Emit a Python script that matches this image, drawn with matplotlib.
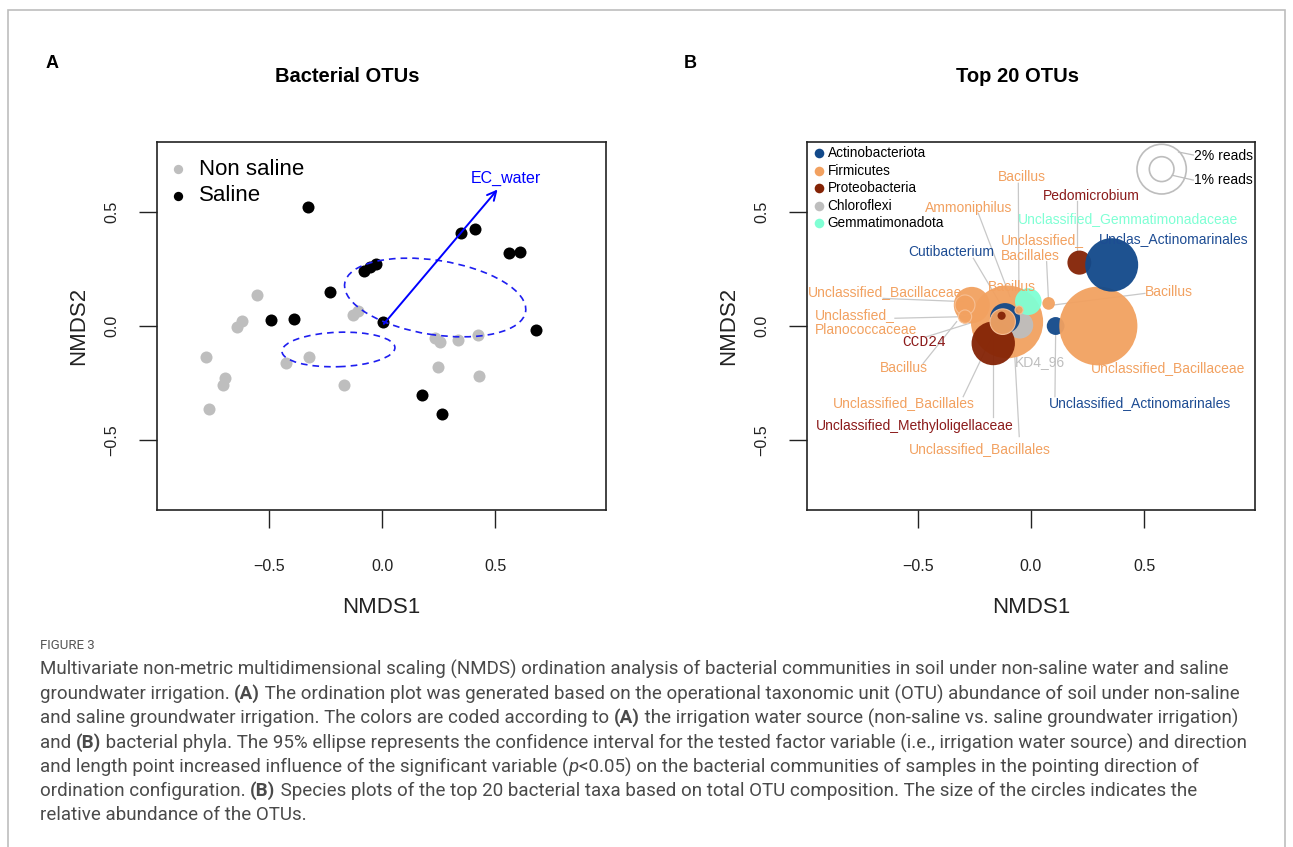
import numpy as np
import matplotlib.pyplot as plt
from matplotlib.patches import Ellipse, Circle, Rectangle

W, H = 1293, 847

# ---- panel A: NMDS sample scores ----
nonsaline_x = [-0.552, -0.621, -0.643, -0.779, -0.695, -0.702, -0.765, -0.425, -0.322,
               -0.167, -0.130, -0.105, 0.235, 0.257, 0.338, 0.426, 0.246, 0.431]
nonsaline_y = [0.136, 0.023, -0.003, -0.137, -0.229, -0.259, -0.365, -0.161, -0.137,
               -0.259, 0.048, 0.067, -0.054, -0.069, -0.061, -0.039, -0.181, -0.218]
saline_x = [-0.329, -0.493, -0.389, -0.230, -0.080, -0.053, -0.028, 0.003, 0.350,
            0.412, 0.563, 0.611, 0.681, 0.176, 0.264]
saline_y = [0.523, 0.026, 0.029, 0.151, 0.243, 0.260, 0.270, 0.019, 0.409,
            0.424, 0.322, 0.323, -0.018, -0.303, -0.387]
# 95% ellipses: center x, center y, width, height, angle
ell_saline = (0.235, 0.125, 0.81, 0.326, -8.8)
ell_nonsaline = (-0.193, -0.103, 0.50, 0.151, 2.0)
ec_water = (0.519, 0.608)

# ---- panel B: top 20 OTU scores ----
phyla = ['Actinobacteriota', 'Firmicutes', 'Proteobacteria', 'Chloroflexi', 'Gemmatimonadota']
phylum_fill = {'Actinobacteriota': '#12498A', 'Firmicutes': '#F2A160',
               'Proteobacteria': '#842305', 'Chloroflexi': '#BEBEBE',
               'Gemmatimonadota': '#7FFFD4'}
phylum_text = {'Actinobacteriota': '#1D4C93', 'Firmicutes': '#F2A160',
               'Proteobacteria': '#8B1A1A', 'Chloroflexi': '#BEBEBE',
               'Gemmatimonadota': '#7FFFD4'}
otu_x = [-0.106, -0.262, -0.292, -0.292, -0.049, -0.167, -0.115, -0.125, -0.130,
         -0.012, -0.053, 0.078, 0.109, 0.298, 0.214, 0.357]
otu_y = [0.018, 0.092, 0.092, 0.041, 0.004, -0.076, 0.034, 0.019, 0.045,
         0.107, 0.070, 0.099, 0.000, 0.000, 0.278, 0.268]
otu_reads = [2.93, 1.46, 0.81, 0.54, 1.08, 1.76, 1.22, 1.03, 0.33,
             1.08, 0.33, 0.51, 0.72, 3.17, 0.97, 2.15]
otu_phylum = ['Firmicutes', 'Firmicutes', 'Firmicutes', 'Firmicutes', 'Chloroflexi',
              'Proteobacteria', 'Actinobacteriota', 'Firmicutes', 'Proteobacteria',
              'Gemmatimonadota', 'Firmicutes', 'Firmicutes', 'Actinobacteriota',
              'Firmicutes', 'Proteobacteria', 'Actinobacteriota']

# labels: text, phylum, x, y, leader line (x0, y0, x1, y1) or None
labels = [
    ('Bacillus', 'Firmicutes', -0.041, 0.652, (-0.056, 0.626, -0.053, 0.070)),
    ('Pedomicrobium', 'Proteobacteria', 0.265, 0.572, (0.202, 0.550, 0.202, 0.319)),
    ('Ammoniphilus', 'Firmicutes', -0.274, 0.519, (-0.233, 0.494, -0.093, 0.129)),
    ('Unclassified_Gemmatimonadaceae', 'Gemmatimonadota', 0.427, 0.468, None),
    ('Unclassified_\nBacillales', 'Firmicutes', -0.134, 0.343, (0.069, 0.282, 0.077, 0.121)),
    ('Unclas_Actinomarinales', 'Actinobacteriota', 0.630, 0.380, None),
    ('Cutibacterium', 'Actinobacteriota', -0.351, 0.323, (-0.255, 0.297, -0.115, 0.063)),
    ('Unclassified_Bacillaceae', 'Firmicutes', -0.646, 0.151, (-0.654, 0.121, -0.300, 0.107)),
    ('Bacillus', 'Firmicutes', -0.085, 0.170, None),
    ('Bacillus', 'Firmicutes', 0.612, 0.151, (0.504, 0.143, 0.099, 0.092)),
    ('Unclassfied_\nPlanococcaceae', 'Firmicutes', -0.956, 0.016, (-0.602, 0.034, -0.292, 0.041)),
    ('CCD24', 'Proteobacteria', -0.473, -0.069, (-0.462, -0.047, -0.226, 0.026)),
    ('Bacillus', 'Firmicutes', -0.561, -0.184, (-0.477, -0.164, -0.329, 0.019)),
    ('KD4_96', 'Chloroflexi', 0.040, -0.159, None),
    ('Unclassified_Bacillaceae', 'Firmicutes', 0.608, -0.184, None),
    ('Unclassified_Actinomarinales', 'Actinobacteriota', 0.482, -0.336, (0.106, -0.310, 0.109, -0.032)),
    ('Unclassified_Bacillales', 'Firmicutes', -0.562, -0.336, (-0.300, -0.310, -0.152, -0.003)),
    ('Unclassified_Methyloligellaceae', 'Proteobacteria', -0.513, -0.437, (-0.167, -0.398, -0.167, -0.047)),
    ('Unclassified_Bacillales', 'Firmicutes', -0.226, -0.541, (-0.052, -0.485, -0.078, -0.018)),
]
radius_per_pct = 0.0545
size_legend = (0.578, 0.688)

ticks = [-0.5, 0.0, 0.5]
caption = [
    [("Multivariate non-metric multidimensional scaling (NMDS) ordination analysis of bacterial communities in soil under non-saline water and saline", 'normal', 'normal')],
    [("groundwater irrigation. ", 'normal', 'normal'), ("(A)", 'bold', 'normal'),
     (" The ordination plot was generated based on the operational taxonomic unit (OTU) abundance of soil under non-saline", 'normal', 'normal')],
    [("and saline groundwater irrigation. The colors are coded according to ", 'normal', 'normal'), ("(A)", 'bold', 'normal'),
     (" the irrigation water source (non-saline vs. saline groundwater irrigation)", 'normal', 'normal')],
    [("and ", 'normal', 'normal'), ("(B)", 'bold', 'normal'),
     (" bacterial phyla. The 95% ellipse represents the confidence interval for the tested factor variable (i.e., irrigation water source) and direction", 'normal', 'normal')],
    [("and length point increased influence of the significant variable (", 'normal', 'normal'), ("p", 'normal', 'italic'),
     ("<0.05) on the bacterial communities of samples in the pointing direction of", 'normal', 'normal')],
    [("ordination configuration. ", 'normal', 'normal'), ("(B)", 'bold', 'normal'),
     (" Species plots of the top 20 bacterial taxa based on total OTU composition. The size of the circles indicates the", 'normal', 'normal')],
    [("relative abundance of the OTUs.", 'normal', 'normal')],
]

plt.rcParams['font.family'] = ['Liberation Sans', 'DejaVu Sans']
fig = plt.figure(figsize=(W / 100, H / 100), dpi=100)
fig.patches.append(Rectangle((8 / W, -0.1), 1277 / W, 1.1 - 10 / H, transform=fig.transFigure,
                             fill=False, ec='#BDBDBD', lw=1.2))


def px_axes(x0, x1, y0, y1):
    return fig.add_axes([x0 / W, 1 - y1 / H, (x1 - x0) / W, (y1 - y0) / H])


def r_style(ax, xlim, ylim):
    ax.set_xlim(*xlim)
    ax.set_ylim(*ylim)
    ax.set_xticks(ticks)
    ax.set_yticks(ticks)
    ax.set_xticklabels(['\u22120.5', '0.0', '0.5'])
    ax.set_yticklabels(['\u22120.5', '0.0', '0.5'])
    ax.tick_params(axis='x', length=13, width=1.0, pad=22, labelsize=11.5, colors='#222222')
    ax.tick_params(axis='y', length=13, width=1.0, pad=14, labelsize=11.5, labelrotation=90, colors='#222222')
    for t in ax.get_yticklabels():
        t.set_va('center')
    for s in ax.spines.values():
        s.set_linewidth(1.2)
        s.set_color('#222222')
    ax.set_xlabel('NMDS1', fontsize=16, labelpad=17, color='#222222')
    ax.set_ylabel('NMDS2', fontsize=16, labelpad=11, color='#222222')


# ---------- panel A ----------
axA = px_axes(157, 606, 142, 510)
r_style(axA, (-0.996, 0.991), (-0.807, 0.807))
axA.scatter(nonsaline_x, nonsaline_y, s=75, c='#BEBEBE', lw=0, zorder=2)
axA.scatter(saline_x, saline_y, s=75, c='black', lw=0, zorder=3)
for cx, cy, w, h, a in [ell_saline, ell_nonsaline]:
    axA.add_patch(Ellipse((cx, cy), w, h, angle=a, fill=False, ec='#1E1EF0', lw=1.2,
                          ls=(0, (4, 3)), zorder=4))
axA.annotate('', xy=ec_water, xytext=(0, 0),
             arrowprops=dict(arrowstyle='->', color='#0000FF', lw=1.4, mutation_scale=16), zorder=5)
axA.text(ec_water[0] + 0.03, ec_water[1] + 0.04, 'EC_water', color='#0000FF', fontsize=11.5,
         ha='center', va='center')
axA.scatter([0.0468], [0.9266], s=45, c='#BEBEBE', lw=0, transform=axA.transAxes)
axA.scatter([0.0468], [0.8533], s=45, c='black', lw=0, transform=axA.transAxes)
axA.text(0.0935, 0.9266, 'Non saline', fontsize=16, va='center', transform=axA.transAxes)
axA.text(0.0935, 0.8533, 'Saline', fontsize=16, va='center', transform=axA.transAxes)

# ---------- panel B ----------
axB = px_axes(807, 1255, 142, 510)
r_style(axB, (-0.991, 0.991), (-0.807, 0.807))
for lab, ph, lx, ly, line in labels:
    if line is not None:
        axB.plot([line[0], line[2]], [line[1], line[3]], color='#C8C8C8', lw=0.9, zorder=1)
for x, y, r, ph in zip(otu_x, otu_y, otu_reads, otu_phylum):
    edge = '#F7C197' if (ph == 'Firmicutes' and r < 1.1 and x < 0) else 'none'
    axB.add_patch(Circle((x, y), r * radius_per_pct, fc=phylum_fill[ph], ec=edge,
                         lw=0.8, alpha=0.95, zorder=2))
for lab, ph, lx, ly, line in labels:
    if '\n' in lab:
        axB.text(lx, ly, lab, color=phylum_text[ph], fontsize=10, ha='left', va='center',
                 linespacing=1.15, zorder=3)
    elif lab == 'CCD24':
        axB.text(lx, ly, lab, color=phylum_text[ph], fontsize=10.5, ha='center', va='center',
                 family='Liberation Mono', zorder=3)
    else:
        axB.text(lx, ly, lab, color=phylum_text[ph], fontsize=10, ha='center', va='center', zorder=3)

# phylum legend
leg_y = [0.970, 0.921, 0.874, 0.826, 0.779]
for ph, yy in zip(phyla, leg_y):
    axB.scatter([0.027], [yy], s=48, c=phylum_fill[ph], lw=0, transform=axB.transAxes, zorder=4)
    axB.text(0.046, yy, ph, fontsize=9.8, va='center', transform=axB.transAxes, zorder=4)

# size legend
cx, cy = size_legend
for pct in [2, 1]:
    axB.add_patch(Circle((cx, cy), pct * radius_per_pct, fill=False, ec='#BDBDBD', lw=1.2, zorder=4))
axB.plot([cx + 0.075, 0.718], [cy + 0.075, 0.75], color='#BDBDBD', lw=0.9, zorder=4)
axB.plot([cx + 0.047, 0.718], [cy - 0.027, 0.64], color='#BDBDBD', lw=0.9, zorder=4)
axB.text(0.722, 0.747, '2% reads', fontsize=10, va='center', zorder=4)
axB.text(0.722, 0.640, '1% reads', fontsize=10, va='center', zorder=4)

# titles and panel letters
fig.text(347 / W, 1 - 76 / H, 'Bacterial OTUs', fontsize=14.5, fontweight='bold', ha='center', va='center')
fig.text(1018 / W, 1 - 76 / H, 'Top 20 OTUs', fontsize=14.5, fontweight='bold', ha='center', va='center')
fig.text(52 / W, 1 - 64 / H, 'A', fontsize=13, fontweight='bold', ha='center', va='center')
fig.text(690 / W, 1 - 63 / H, 'B', fontsize=13, fontweight='bold', ha='center', va='center')

# caption
fig.text(40 / W, 1 - 645 / H, 'FIGURE 3', fontsize=9.5, color='#555555', va='center', family='Roboto')
renderer = fig.canvas.get_renderer()
line_y = [669, 694, 718, 743, 767, 791, 815]
for yy, segs in zip(line_y, caption):
    x = 40
    for txt, wt, st in segs:
        t = fig.text(x / W, 1 - yy / H, txt, fontsize=13.5, fontweight=wt, fontstyle=st,
                     color='#4A4A4A', va='center', family='Roboto')
        x += t.get_window_extent(renderer).width

fig.savefig('out.png', dpi=100)
